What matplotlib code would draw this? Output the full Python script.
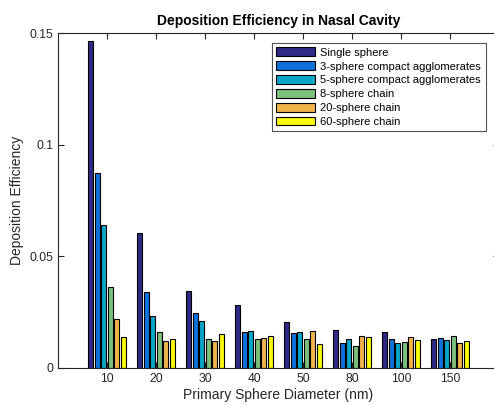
import numpy as np
import matplotlib
matplotlib.use("Agg")
import matplotlib.pyplot as plt

plt.rcParams['font.family'] = ['Liberation Sans', 'DejaVu Sans']

# primary sphere diameters (nm)
diameters = ['10', '20', '30', '40', '50', '80', '100', '150']

series_names = ['Single sphere', '3-sphere compact agglomerates',
                '5-sphere compact agglomerates', '8-sphere chain',
                '20-sphere chain', '60-sphere chain']

single = [0.1466, 0.0605, 0.0345, 0.0282, 0.0207, 0.0172, 0.0159, 0.0128]
compact3 = [0.0875, 0.0340, 0.0246, 0.0161, 0.0157, 0.0112, 0.0130, 0.0136]
compact5 = [0.0642, 0.0233, 0.0210, 0.0167, 0.0161, 0.0130, 0.0112, 0.0127]
chain8 = [0.0363, 0.0159, 0.0131, 0.0128, 0.0130, 0.0099, 0.0116, 0.0145]
chain20 = [0.0219, 0.0119, 0.0121, 0.0133, 0.0166, 0.0143, 0.0139, 0.0113]
chain60 = [0.0140, 0.0131, 0.0152, 0.0142, 0.0107, 0.0137, 0.0127, 0.0121]

colors = ['#2f2a86', '#0f72dc', '#07a6c6', '#7cc07c', '#f1b44c', '#f9f90c']

data = [single, compact3, compact5, chain8, chain20, chain60]

fig = plt.figure(figsize=(4.94, 4.05), dpi=100)
# axes runs past the right border of the figure
ax = fig.add_axes([58 / 494, 37 / 405, 441 / 494, 335 / 405])

x = np.arange(1, len(diameters) + 1)
nser = len(data)
group_w = 0.8
pitch = group_w / nser
bar_w = pitch * 0.8
for i, (vals, name, c) in enumerate(zip(data, series_names, colors)):
    offs = -group_w / 2 + pitch * (i + 0.5)
    ax.bar(x + offs, vals, bar_w, color=c, edgecolor='black',
           linewidth=0.8, label=name)

ax.set_xlim(0, 9)
ax.set_ylim(0, 0.15)
ax.set_xticks(x)
ax.set_xticklabels(diameters)
ax.set_yticks([0, 0.05, 0.1, 0.15])
ax.set_yticklabels(['0', '0.05', '0.1', '0.15'])
ax.tick_params(direction='in', length=4, width=0.8, labelsize=8.7,
               top=True, right=True, colors='#262626', labelcolor='#262626')
for s in ax.spines.values():
    s.set_color('#262626')
    s.set_linewidth(0.8)

ax.set_xlabel('Primary Sphere Diameter (nm)', fontsize=10, color='#262626', labelpad=2)
ax.set_ylabel('Deposition Efficiency', fontsize=10, color='#262626', labelpad=4)
ax.set_title('Deposition Efficiency in Nasal Cavity', fontsize=10,
             fontweight='bold', pad=6)

leg = ax.legend(loc='upper left', bbox_to_anchor=(214 / 441, 1 - 10 / 335),
                fontsize=8, frameon=True, fancybox=False, edgecolor='#262626',
                handlelength=3.5, handleheight=0.85, handletextpad=0.45,
                labelspacing=0.32, borderpad=0.4, borderaxespad=0)
leg.get_frame().set_linewidth(0.8)

fig.savefig('out.png', dpi=100)
